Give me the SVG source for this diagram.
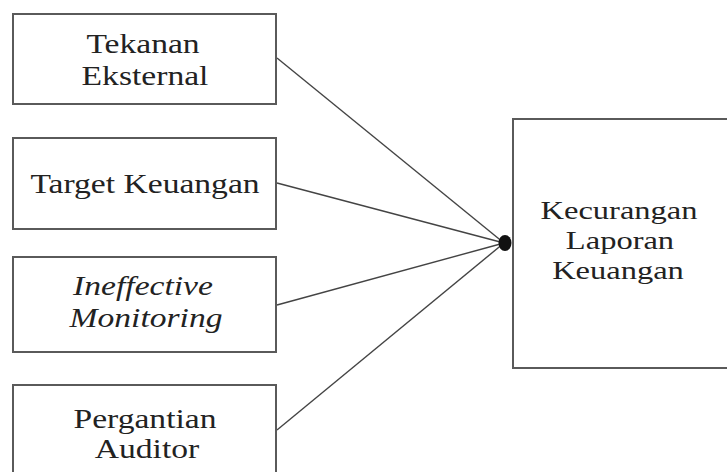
<svg xmlns="http://www.w3.org/2000/svg" width="727" height="472" viewBox="0 0 727 472">
<style>
.box{fill:#fff;stroke:#5a5a5a;stroke-width:2}
.t{font-family:"Liberation Serif","Times New Roman",serif;font-size:28px;fill:#222;text-anchor:middle}
.r{font-size:26px}
.i{font-style:italic}
.c{stroke:#444;stroke-width:1.4;fill:none}
</style>
<rect width="727" height="472" fill="#fff"/>
<g id="connectors">
<line class="c" x1="277" y1="58" x2="504" y2="243"/>
<line class="c" x1="277" y1="183" x2="504" y2="243"/>
<line class="c" x1="277" y1="305" x2="504" y2="243"/>
<line class="c" x1="277" y1="430" x2="504" y2="243"/>
<ellipse cx="505" cy="243" rx="6.5" ry="8" fill="#111"/>
</g>
<g id="tekanan">
<rect class="box" x="13" y="14" width="263" height="90"/>
<text class="t" transform="translate(143,53) scale(1.2,1)">Tekanan</text>
<text class="t" transform="translate(145,85) scale(1.2,1)">Eksternal</text>
</g>
<g id="target">
<rect class="box" x="13" y="138" width="263" height="91"/>
<text class="t" transform="translate(145,193) scale(1.2,1)">Target Keuangan</text>
</g>
<g id="ineffective">
<rect class="box" x="13" y="257" width="263" height="95"/>
<text class="t i" transform="translate(143,295) scale(1.2,1)">Ineffective</text>
<text class="t i" transform="translate(146,327) scale(1.2,1)">Monitoring</text>
</g>
<g id="pergantian">
<rect class="box" x="13" y="385" width="263" height="100"/>
<text class="t" transform="translate(145,428) scale(1.2,1)">Pergantian</text>
<text class="t" transform="translate(147,458) scale(1.2,1)">Auditor</text>
</g>
<g id="kecurangan">
<rect class="box" x="513" y="119" width="230" height="249"/>
<text class="t r" transform="translate(619,219) scale(1.25,1)">Kecurangan</text>
<text class="t r" transform="translate(620,249) scale(1.25,1)">Laporan</text>
<text class="t r" transform="translate(618,279) scale(1.25,1)">Keuangan</text>
</g>
</svg>
